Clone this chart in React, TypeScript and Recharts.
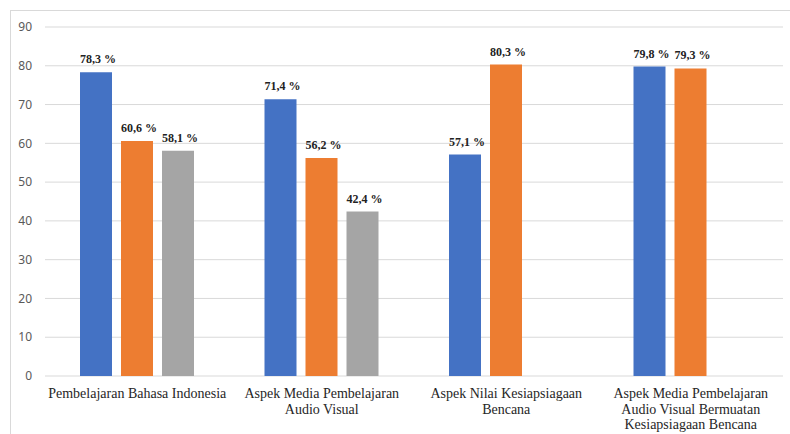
import React from "react";
import { BarChart, Bar, XAxis, YAxis, CartesianGrid, LabelList } from "recharts";

const categories = [
  "Pembelajaran Bahasa Indonesia",
  "Aspek Media Pembelajaran\nAudio Visual",
  "Aspek Nilai Kesiapsiagaan\nBencana",
  "Aspek Media Pembelajaran\nAudio Visual Bermuatan\nKesiapsiagaan Bencana",
];
const seriesBlue = [78.3, 71.4, 57.1, 79.8];
const seriesOrange = [60.6, 56.2, 80.3, 79.3];
const seriesGray: (number | null)[] = [58.1, 42.4, null, null];
const yTicks = [0, 10, 20, 30, 40, 50, 60, 70, 80, 90];

const data = categories.map((c, i) => ({
  name: c,
  a: seriesBlue[i],
  b: seriesOrange[i],
  c: seriesGray[i],
}));

const fmt = (v: any) =>
  v == null ? "" : `${Number(v).toFixed(1).replace(".", ",")} %`;

const XTick = (props: any) => {
  const { x, y, payload } = props;
  const lines = String(payload.value).split("\n");
  return (
    <text
      x={x}
      y={y}
      textAnchor="middle"
      fill="#262626"
      fontFamily="'Liberation Serif', 'Times New Roman', serif"
      fontSize={14}
    >
      {lines.map((l, i) => (
        <tspan key={i} x={x} dy={i === 0 ? 22 : 15.5}>
          {l}
        </tspan>
      ))}
    </text>
  );
};

const BarLabel = (props: any) => {
  const { x, y, width, value } = props;
  if (value == null) return null;
  return (
    <text
      x={Number(x) + Number(width) / 2 + 2}
      y={Number(y) - 9}
      textAnchor="middle"
      fontFamily="'Liberation Serif', 'Times New Roman', serif"
      fontWeight={700}
      fontSize={12}
      fill="#222"
    >
      {fmt(value)}
    </text>
  );
};

export default function App() {
  return (
    <div
      style={{
        position: "absolute",
        left: 0,
        top: 0,
        width: 790,
        height: 434,
        overflow: "hidden",
        background: "#fff",
      }}
    >
      <div
        style={{
          position: "absolute",
          left: 10,
          top: 10,
          width: 800,
          height: 450,
          border: "1px solid #d9d9d9",
          boxSizing: "border-box",
        }}
      />
      <div style={{ position: "absolute", left: 0, top: 0 }}>
        <BarChart
          width={790}
          height={434}
          data={data}
          margin={{ top: 27, right: 7, bottom: 0, left: 0 }}
          barSize={32}
          barGap={9}
        >
          <CartesianGrid vertical={false} stroke="#d9d9d9" />
          <XAxis
            dataKey="name"
            axisLine={false}
            tickLine={false}
            tickSize={0}
            tickMargin={0}
            height={58}
            interval={0}
            tick={<XTick />}
          />
          <YAxis
            domain={[0, 90]}
            ticks={yTicks}
            width={45}
            axisLine={false}
            tickLine={false}
            tickSize={0}
            tickMargin={13}
            tick={{
              fill: "#595959",
              fontSize: 12,
              fontFamily: "'Noto Sans', 'DejaVu Sans', sans-serif",
            }}
          />
          <Bar dataKey="a" fill="#4472C4" isAnimationActive={false}>
            <LabelList dataKey="a" content={<BarLabel />} />
          </Bar>
          <Bar dataKey="b" fill="#ED7D31" isAnimationActive={false}>
            <LabelList dataKey="b" content={<BarLabel />} />
          </Bar>
          <Bar dataKey="c" fill="#A5A5A5" isAnimationActive={false}>
            <LabelList dataKey="c" content={<BarLabel />} />
          </Bar>
        </BarChart>
      </div>
    </div>
  );
}
